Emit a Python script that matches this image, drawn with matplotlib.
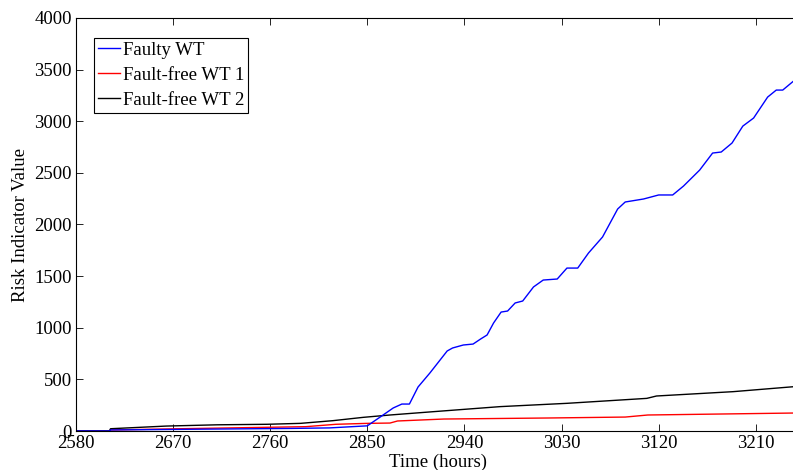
import numpy as np
import matplotlib
matplotlib.use('Agg')
import matplotlib.pyplot as plt

plt.rcParams['font.family'] = ['Liberation Serif', 'DejaVu Serif']
plt.rcParams['mathtext.fontset'] = 'stix'

# 故障风机
faulty_t = [2580, 2611, 2612, 2700, 2780, 2815, 2850, 2862, 2874, 2882, 2889, 2897, 2908,
            2924, 2929, 2939, 2948, 2955, 2961, 2967, 2974, 2980, 2987, 2994, 3004, 3013,
            3026, 3035, 3045, 3055, 3068, 3082, 3089, 3106, 3120, 3133, 3143, 3158, 3170,
            3178, 3188, 3198, 3208, 3221, 3229, 3235, 3245]
faulty_v = [0, 0, 10, 18, 25, 30, 50, 136, 223, 261, 261, 426, 562,
            775, 804, 833, 842, 891, 930, 1046, 1152, 1162, 1240, 1259, 1395, 1462,
            1472, 1578, 1578, 1724, 1879, 2150, 2218, 2247, 2286, 2286, 2372, 2527, 2692,
            2702, 2789, 2953, 3031, 3234, 3302, 3302, 3389]

# 正常风机1
free1_t = [2580, 2611, 2612, 2677, 2793, 2821, 2850, 2871, 2878, 2921, 3018, 3089, 3110, 3245]
free1_v = [0, 0, 10, 22, 42, 65, 74, 77, 97, 116, 126, 135, 155, 174]

# 正常风机2
free2_t = [2580, 2611, 2612, 2664, 2711, 2757, 2788, 2818, 2846, 2871, 2911, 2973, 3035,
           3109, 3118, 3189, 3245]
free2_v = [0, 0, 22, 48, 60, 65, 74, 100, 132, 155, 187, 236, 268,
           316, 339, 381, 429]

x_ticks = [2580, 2670, 2760, 2850, 2940, 3030, 3120, 3210]
y_ticks = [0, 500, 1000, 1500, 2000, 2500, 3000, 3500, 4000]

fig = plt.figure(figsize=(7.93, 4.70), dpi=100)
ax = fig.add_axes([76/793, 39/470, (800-76)/793, 413/470])   # 右边被裁掉一点

ax.plot(free1_t, free1_v, color='red', lw=1.0, label='Fault-free WT 1')
ax.plot(free2_t, free2_v, color='black', lw=1.0, label='Fault-free WT 2')
ax.plot(faulty_t, faulty_v, color='blue', lw=1.0, label='Faulty WT')

ax.set_xlim(2580, 3251)
ax.set_ylim(0, 4000)
ax.set_xticks(x_ticks)
ax.set_yticks(y_ticks)
ax.tick_params(direction='in', top=True, right=True, length=5, width=0.6,
               labelsize=13.5, pad=3)
for s in ax.spines.values():
    s.set_linewidth(0.8)

ax.set_xlabel('Time (hours)', fontsize=13.5, labelpad=0)
ax.xaxis.set_label_coords(0.5, -0.055)
ax.set_ylabel('Risk Indicator Value', fontsize=13.5, labelpad=4)

h, l = ax.get_legend_handles_labels()
order = [2, 0, 1]
leg = ax.legend([h[i] for i in order], [l[i] for i in order], loc='upper left',
                bbox_to_anchor=(18/724, 1-20/413), borderaxespad=0, fontsize=13.5,
                fancybox=False, edgecolor='black', framealpha=1, handlelength=1.2,
                handletextpad=0.15, labelspacing=0.42, borderpad=0.2)
leg.get_frame().set_linewidth(0.8)

plt.savefig('out.png', dpi=100)
